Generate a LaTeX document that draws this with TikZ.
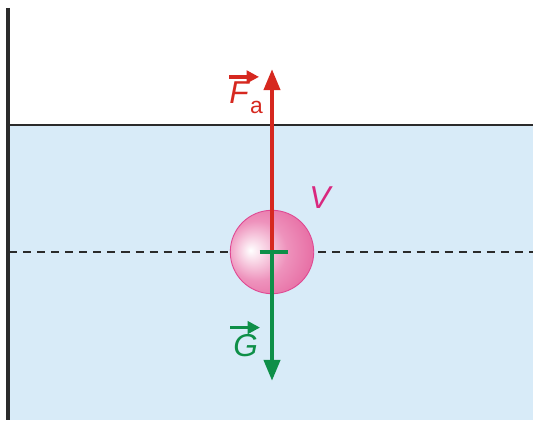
\documentclass[tikz,border=0pt]{standalone}
\usepackage{fontspec}
\setmainfont{Liberation Sans}
\usetikzlibrary{arrows.meta, positioning, calc}
\definecolor{waterblue}{HTML}{D8EBF8}
\definecolor{forcered}{HTML}{D6281F}
\definecolor{forcegreen}{HTML}{0E8F48}
\definecolor{ballmagenta}{HTML}{D9287F}
\definecolor{ballmid}{HTML}{EE92BC}
\definecolor{balldark}{HTML}{E04A8C}
\definecolor{lineblack}{HTML}{2B2B2B}
\pgfdeclareradialshading{ballpink}{\pgfpoint{-13bp}{1bp}}{color(0bp)=(white); color(18bp)=(ballmid); color(45bp)=(balldark); color(60bp)=(balldark)}

\begin{document}
\begin{tikzpicture}[x=0.02cm, y=-0.02cm,
    forcelabel/.style={font=\fontsize{18}{20}\selectfont, inner sep=0pt},
    vecbar/.style={line width=2pt, -{Triangle[length=7pt, width=7pt]}}]
          \useasboundingbox (0,0) rectangle (533,421);
          % Wasser
          \fill[waterblue] (8,125) rectangle (533,420);
          \draw[lineblack, line width=1.6pt] (8,125) -- (533,125);
          \draw[lineblack, line width=1.4pt, dash pattern=on 4.6pt off 3.4pt] (9,252) -- (533,252);
          % Wand
          \draw[lineblack, line width=2.2pt] (8,8) -- (8,420);
          % Kugel
          \node[circle, minimum size=47.5pt, inner sep=0pt, shading=ballpink, draw=ballmagenta!85, line width=0.5pt] (ball) at (272,252) {};
          \coordinate (fatip) at (272,69);
          \coordinate (gtip) at (272,381);
          % Auftriebskraft
          \draw[forcered, line width=2.5pt, -{Triangle[length=12pt, width=9pt]}] (ball.center) -- (fatip);
          % Gewichtskraft
          \draw[forcegreen, line width=2.5pt, -{Triangle[length=12pt, width=9pt]}] (ball.center) -- (gtip);
          \draw[forcegreen, line width=2.5pt] ([xshift=-7]ball.center) -- ([xshift=9]ball.center);
          % Beschriftungen
          \node[forcelabel, forcered, anchor=base west] (fa) at (229,104) {\textit{F}\raisebox{-0.3em}{\fontsize{13}{14}\selectfont a}};
          \draw[forcered, vecbar] ($(fa.north west)+(0,-5)$) -- ++(30,0);
          \node[forcelabel, ballmagenta, anchor=base west] (vol) at (309,209) {\textit{V}};
          \node[forcelabel, forcegreen, anchor=base west] (g) at (233,357) {\textit{G}};
          \draw[forcegreen, vecbar] ($(g.north west)+(-3,-7)$) -- ++(30,0);
        \end{tikzpicture}
\end{document}
